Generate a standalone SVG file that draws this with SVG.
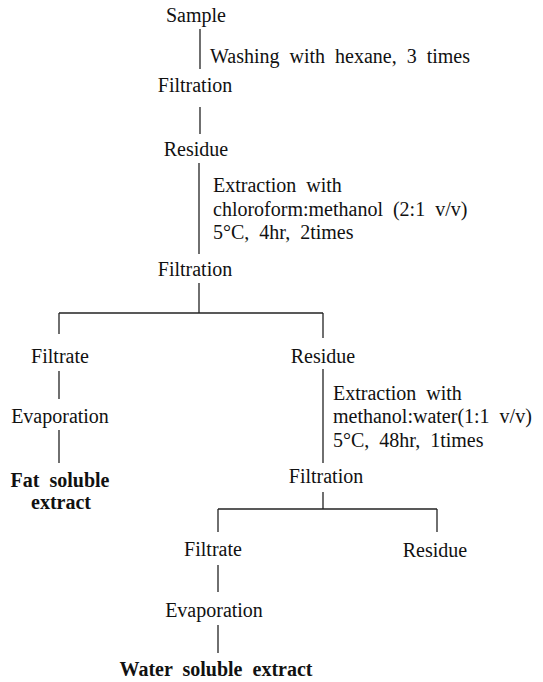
<svg xmlns="http://www.w3.org/2000/svg" width="543" height="682" viewBox="0 0 543 682">
<style>
text{font-family:"Liberation Serif","Times New Roman",serif;font-size:20px;fill:#111;}
.c{text-anchor:middle;}
.b{font-weight:bold;}
.w{word-spacing:5px;}
#connectors line{stroke:#222;stroke-width:1.3;fill:none;}
</style>
<rect width="543" height="682" fill="#fff"/>
<g id="connectors">
<line x1="200" y1="29" x2="200" y2="69"/>
<line x1="200" y1="107" x2="200" y2="134"/>
<line x1="199" y1="163" x2="199" y2="254"/>
<line x1="199" y1="283" x2="199" y2="313"/>
<line x1="59" y1="313" x2="323" y2="313"/>
<line x1="59" y1="313" x2="59" y2="334"/>
<line x1="323" y1="313" x2="323" y2="338"/>
<line x1="59" y1="371" x2="59" y2="399"/>
<line x1="59" y1="430" x2="59" y2="463"/>
<line x1="323" y1="369" x2="323" y2="463"/>
<line x1="323" y1="492" x2="323" y2="509"/>
<line x1="218" y1="509" x2="437" y2="509"/>
<line x1="218" y1="509" x2="218" y2="532"/>
<line x1="437" y1="509" x2="437" y2="532"/>
<line x1="218" y1="565" x2="218" y2="592"/>
<line x1="218" y1="625" x2="218" y2="653"/>
</g>
<g id="sample"><text class="c" x="196" y="22">Sample</text></g>
<g id="step-wash"><text class="w" x="210" y="63">Washing with hexane, 3 times</text></g>
<g id="filtration1"><text class="c" x="195" y="92">Filtration</text></g>
<g id="residue1"><text class="c" x="196" y="156">Residue</text></g>
<g id="step-extract1">
<text class="w" x="213" y="192">Extraction with</text>
<text class="w" x="213" y="216">chloroform:methanol (2:1 v/v)</text>
<text class="w" x="213" y="239">5°C, 4hr, 2times</text>
</g>
<g id="filtration2"><text class="c" x="195" y="276">Filtration</text></g>
<g id="filtrate1"><text class="c" x="60" y="363">Filtrate</text></g>
<g id="evaporation1"><text class="c" x="60" y="423">Evaporation</text></g>
<g id="fat-extract">
<text class="c b w" x="60" y="487">Fat soluble</text>
<text class="c b" x="61" y="509">extract</text>
</g>
<g id="residue2"><text class="c" x="323" y="363">Residue</text></g>
<g id="step-extract2">
<text class="w" x="333" y="400">Extraction with</text>
<text class="w" x="333" y="423">methanol:water(1:1 v/v)</text>
<text class="w" x="333" y="447">5°C, 48hr, 1times</text>
</g>
<g id="filtration3"><text class="c" x="326" y="483">Filtration</text></g>
<g id="filtrate2"><text class="c" x="213" y="556">Filtrate</text></g>
<g id="residue3"><text class="c" x="435" y="557">Residue</text></g>
<g id="evaporation2"><text class="c" x="214" y="617">Evaporation</text></g>
<g id="water-extract"><text class="c b w" x="216" y="676">Water soluble extract</text></g>
</svg>
